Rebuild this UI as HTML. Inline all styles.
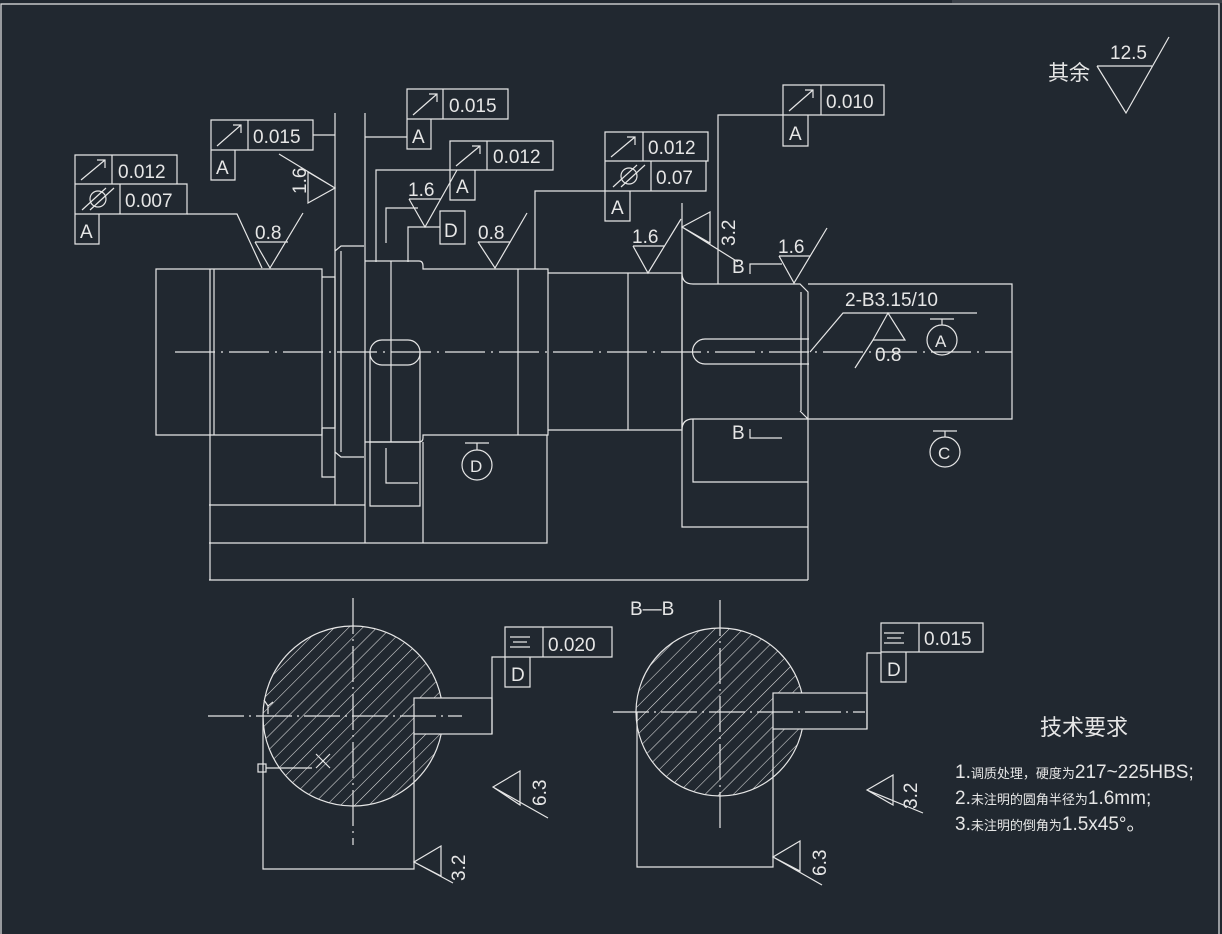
<!DOCTYPE html>
<html><head><meta charset="utf-8"><style>
html,body{margin:0;padding:0;background:#212830;}
svg{display:block}
text{font-family:"Liberation Sans","Noto Sans CJK SC",sans-serif;fill:#e6e6e6;}
</style></head><body>
<svg width="1222" height="934" viewBox="0 0 1222 934" xmlns="http://www.w3.org/2000/svg">
<defs>
<clipPath id="c1"><circle cx="353" cy="716" r="90"/></clipPath>
<clipPath id="c2"><circle cx="720" cy="712" r="84"/></clipPath>
<pattern id="h" width="10" height="10" patternUnits="userSpaceOnUse" patternTransform="rotate(45)">
<line x1="0" y1="0" x2="0" y2="10" stroke="#e0e0e0" stroke-width="1.1"/></pattern>
</defs>
<rect width="1222" height="934" fill="#212830"/>
<rect x="952" y="0" width="270" height="3" fill="#3a4048"/>
<g fill="none" stroke="#e6e6e6" stroke-width="1.2">
<path d="M1 934V4H1219V934"/>
<path d="M156 269H322V435H156Z"/>
<path d="M210 269V580M214 269V435"/>
<path d="M322 277H335V428H322M322 428V477H335"/>
<path d="M335 251L341 246H364M335 452L341 457H364M341 251V452M335 113V505"/>
<path d="M365 113V543"/>
<path d="M365 261H419Q423 261 423 266V269H548V435H423V438Q423 442 419 442H365"/>
<path d="M391 261V442M518 269V435"/>
<rect x="370" y="340" width="50" height="25" rx="12"/>
<path d="M370 352V506H420V352M386 448V483H418M370 442H420"/>
<path d="M209 505H365M209 543H547V435M423 442V543M209 580H808"/>
<path d="M548 273H682V430H548M628 273V430"/>
<path d="M682 203V527H808M682 273Q682 284 693 284H800L808 292V580M682 430Q682 419 693 419H808M801 292V411M800 411L808 419"/>
<path d="M705 339H809M705 364H809M705 339A12.5 12.5 0 0 0 705 364"/>
<path d="M693 419V482H808"/>
<path d="M808 284H1012V419H808"/>
<path d="M175 352H1012" stroke-dasharray="40 6 2 6"/>
<path d="M810 352L843 313H977"/>
<path d="M873 340H905L888 313Z M855 368L873 340"/>
<circle cx="942" cy="340" r="15"/><path d="M930 319H954M942 319V325"/>
<circle cx="945" cy="452" r="15"/><path d="M933 431H957M945 431V437"/>
<circle cx="477" cy="465" r="15"/><path d="M465 443H489M477 443V450"/>
<path d="M750 274V264H782M750 429V438H782"/>
<path d="M75 155H177V184H75ZM112 155V184M75 184H187V214H75ZM120 184V214M75 214H99V244H75Z"/>
<path d="M187 214H237L262 268"/>
<path d="M211 120H313V150H211ZM248 120V150M211 150H235V180H211Z M313 135H335"/>
<path d="M407 89H508V119H407ZM443 89V119M407 119H431V149H407Z M365 137H407"/>
<path d="M450 141H553V170H450ZM487 141V170M450 170H475V200H450Z M376 262V170H450"/>
<path d="M605 132H708V161H605ZM643 132V161M605 161H706V191H605ZM651 161V191M605 191H630V221H605Z M535 269V191H605"/>
<path d="M783 85H884V115H783ZM821 85V115M783 115H808V146H783Z M718 284V115H783"/>
<path d="M255 242H288M255 242L270 268L303 213"/>
<path d="M478 242H510M478 242L495 268L527 213"/>
<path d="M409 199H441M409 199L425 227L457 170"/>
<path d="M386 243V208H418M408 262V227H440M440 211H465V244H440Z"/>
<path d="M308 172L335 188L308 203ZM335 188L279 154"/>
<path d="M633 246H665M633 246L648 273L681 219"/>
<path d="M710 212L682 227L710 243ZM682 227L738 262"/>
<path d="M779 256H810M779 256L794 283L827 228"/>
<path d="M1097 66H1152M1097 66L1126 113L1169 37"/>
<rect x="263" y="626" width="180" height="180" fill="url(#h)" stroke="none" clip-path="url(#c1)"/>
<circle cx="353" cy="716" r="90"/>
<rect x="414" y="698" width="78" height="36" fill="#212830"/>
<path d="M353 598V845M208 716H462" stroke-dasharray="36 5 2 5"/>
<path d="M492 734V657H505M505 627H612V657H505ZM543 627V657M505 657H530V687H505Z"/>
<path d="M263 718V869H414V734"/>
<rect x="258" y="764" width="8" height="8"/>
<path d="M266 768H312M316 754L330 768M316 768L330 754M264 700L268 706L273 702M268 706V714"/>
<path d="M520 771L493 787L520 805ZM493 787L548 818"/>
<path d="M441 846L414 862L441 876ZM414 862L453 883"/>
<rect x="636" y="628" width="168" height="168" fill="url(#h)" stroke="none" clip-path="url(#c2)"/>
<circle cx="720" cy="712" r="84"/>
<rect x="773" y="693" width="94" height="36" fill="#212830"/>
<path d="M720 600V833M613 712H865" stroke-dasharray="36 5 2 5"/>
<path d="M867 729V653H881M881 623H983V652H881ZM919 623V652M881 652H906V682H881Z"/>
<path d="M637 712V867H773V729"/>
<path d="M893 775L867 790L893 805ZM867 790L923 813"/>
<path d="M800 841L773 857L800 871ZM773 857L822 885"/>
</g>
<g stroke="#e6e6e6" stroke-width="1.2" fill="none">
<path d="M81 180L105 160M97 160H105V168"/>
<path d="M217 146L241 125M233 125H241V133"/>
<path d="M413 115L437 94M429 94H437V102"/>
<path d="M456 166L480 146M472 146H480V154"/>
<path d="M611 157L635 137M627 137H635V145"/>
<path d="M789 111L813 90M805 90H813V98"/>
<circle cx="98" cy="199" r="8"/><path d="M82 210L106 188M90 210L114 188"/>
<circle cx="629" cy="176" r="8"/><path d="M613 187L637 165M621 187L645 165"/>
<path d="M510 637H530M513 642H527M510 647H530M884 633H904M887 638H901M884 643H904"/>
</g>
<g font-size="19">
<text x="118" y="178">0.012</text>
<text x="125" y="207">0.007</text>
<text x="80" y="238">A</text>
<text x="253" y="143">0.015</text>
<text x="216" y="174">A</text>
<text x="449" y="112">0.015</text>
<text x="412" y="143">A</text>
<text x="493" y="163">0.012</text>
<text x="456" y="193">A</text>
<text x="648" y="154">0.012</text>
<text x="656" y="184">0.07</text>
<text x="611" y="214">A</text>
<text x="826" y="108">0.010</text>
<text x="789" y="140">A</text>
<text x="444" y="237">D</text>
<text x="548" y="651">0.020</text>
<text x="511" y="681">D</text>
<text x="924" y="645">0.015</text>
<text x="887" y="676">D</text>
<text x="255" y="239">0.8</text>
<text x="478" y="239">0.8</text>
<text x="408" y="196">1.6</text>
<text x="632" y="243">1.6</text>
<text x="778" y="253">1.6</text>
<text x="1110" y="59">12.5</text>
<text x="845" y="306">2-B3.15/10</text>
<text x="875" y="361">0.8</text>
<text x="732" y="273">B</text>
<text x="732" y="439">B</text>
<text x="630" y="615">B—B</text>
</g>
<g font-size="17">
<text x="935" y="347">A</text>
<text x="938" y="459">C</text>
<text x="470" y="472">D</text>
</g>
<g font-size="19">
<text transform="translate(306,194) rotate(-90)">1.6</text>
<text transform="translate(735,246) rotate(-90)">3.2</text>
<text transform="translate(546,806) rotate(-90)">6.3</text>
<text transform="translate(465,881) rotate(-90)">3.2</text>
<text transform="translate(917,809) rotate(-90)">3.2</text>
<text transform="translate(826,876) rotate(-90)">6.3</text>
</g>
<text x="1048" y="80" font-size="21">其余</text>
<text x="1040" y="735" font-size="22">技术要求</text>
<g font-size="17">
<text x="955" y="778"><tspan font-size="19">1.</tspan><tspan font-size="13">调质处理，硬度为</tspan><tspan font-size="19">217~225HBS;</tspan></text>
<text x="955" y="804"><tspan font-size="19">2.</tspan><tspan font-size="13">未注明的圆角半径为</tspan><tspan font-size="19">1.6mm;</tspan></text>
<text x="955" y="830"><tspan font-size="19">3.</tspan><tspan font-size="13">未注明的倒角为</tspan><tspan font-size="19">1.5x45°。</tspan></text>
</g>
</svg>
</body></html>
